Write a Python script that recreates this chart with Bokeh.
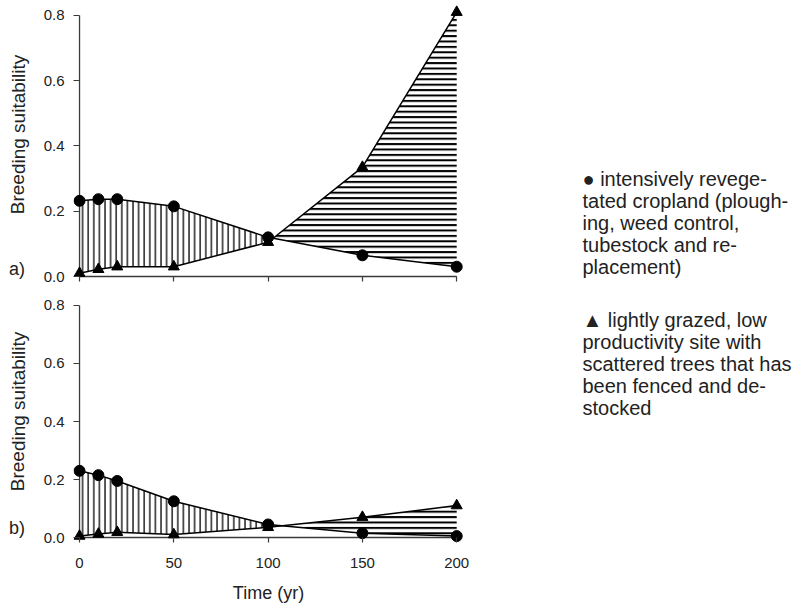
from bokeh.plotting import figure
from bokeh.models import Range1d, FixedTicker, PrintfTickFormatter, ColumnDataSource
from bokeh.core.properties import value
from bokeh.layouts import column, row
from bokeh.embed import file_html
from bokeh.resources import INLINE

# ---------------- data ----------------
time = [0, 10, 20, 50, 100, 150, 200]
a_circle = [0.232, 0.237, 0.237, 0.215, 0.12, 0.065, 0.03]
a_triangle = [0.01, 0.022, 0.03, 0.03, 0.105, 0.335, 0.81]
b_circle = [0.23, 0.215, 0.195, 0.125, 0.045, 0.015, 0.005]
b_triangle = [0.005, 0.012, 0.018, 0.01, 0.035, 0.07, 0.11]

x_ticks = [0, 50, 100, 150, 200]
y_ticks = [0.0, 0.2, 0.4, 0.6, 0.8]
y_label = "Breeding suitability"
x_label = "Time (yr)"
panel_tags = ["a)", "b)"]
legend_circle = ["\u25CF intensively revege-", "tated cropland (plough-",
                 "ing, weed control,", "tubestock and re-", "placement)"]
legend_triangle = ["\u25B2 lightly grazed, low", "productivity site with",
                   "scattered trees that has", "been fenced and de-", "stocked"]

FONT = "Liberation Sans"
INK = "#222222"
AXIS = "#3a3a3a"
H = 607          # total height of the page content
STRIP_W = 34     # left strip holding the axis titles and panel tags
MAIN_W = 39 + 390 + 8
LEG_W = 808 - STRIP_W - MAIN_W


def make_panel(circ, tri, y_range, frame_h, top_b, bottom_b, show_xlabels):
    p = figure(frame_width=390, frame_height=frame_h,
               x_range=Range1d(-3.2, 203.6), y_range=y_range,
               output_backend="svg", toolbar_location=None, title=None,
               min_border_left=39, min_border_right=8,
               min_border_top=top_b, min_border_bottom=bottom_b,
               outline_line_color=None, background_fill_color="white",
               border_fill_color="white")
    p.grid.visible = False

    # x axis (ticks reach from the frame edge up to y = 0)
    xa = p.xaxis[0]
    xa.ticker = FixedTicker(ticks=x_ticks)
    xa.axis_line_color = None
    xa.minor_tick_line_color = None
    xa.major_tick_in = 5
    xa.major_tick_out = 0
    xa.major_tick_line_color = AXIS
    xa.major_tick_line_width = 1.2
    xa.major_label_text_font = FONT
    xa.major_label_text_color = INK
    if show_xlabels:
        xa.major_label_text_font_size = "15px"
        xa.major_label_standoff = 15
        xa.axis_label = x_label
        xa.axis_label_text_font = FONT
        xa.axis_label_text_font_size = "18px"
        xa.axis_label_text_font_style = "normal"
        xa.axis_label_text_color = INK
        xa.axis_label_standoff = 12
    else:
        xa.major_label_overrides = {t: "" for t in x_ticks}
        xa.major_label_text_font_size = "1px"
        xa.major_label_standoff = 0

    # y axis (ticks reach from the frame edge to x = 0)
    ya = p.yaxis[0]
    ya.ticker = FixedTicker(ticks=y_ticks)
    ya.formatter = PrintfTickFormatter(format="%.1f")
    ya.axis_line_color = None
    ya.minor_tick_line_color = None
    ya.major_tick_in = 6
    ya.major_tick_out = 0
    ya.major_tick_line_color = AXIS
    ya.major_tick_line_width = 1.2
    ya.major_label_text_font = FONT
    ya.major_label_text_font_size = "15px"
    ya.major_label_text_color = INK
    ya.major_label_standoff = 9

    # hatched areas between the two curves
    k = time.index(100)
    p.varea(x=time[:k + 1], y1=tri[:k + 1], y2=circ[:k + 1],
            fill_color=None, hatch_pattern="vertical_line",
            hatch_color="black", hatch_weight=1.3, hatch_scale=5.6)
    p.varea(x=time[k:], y1=circ[k:], y2=tri[k:],
            fill_color=None, hatch_pattern="horizontal_line",
            hatch_color="black", hatch_weight=2.0, hatch_scale=5.4)

    # axis lines at x = 0 and y = 0
    p.line([x_ticks[0], x_ticks[-1]], [y_ticks[0], y_ticks[0]],
           line_color=AXIS, line_width=1.3)
    p.line([x_ticks[0], x_ticks[0]], [y_ticks[0], y_ticks[-1]],
           line_color=AXIS, line_width=1.3)

    # curves and markers
    p.line(time, circ, line_color="black", line_width=1.5)
    p.line(time, tri, line_color="black", line_width=1.5)
    p.scatter(time, circ, marker="circle", size=11, color="black")
    p.scatter(time, tri, marker="triangle", size=11, color="black")
    return p


# top panel: y=0 at y-pixel 276, y=0.8 at 15
p1 = make_panel(a_circle, a_triangle, Range1d(-0.0153, 0.8398),
                frame_h=279, top_b=2, bottom_b=11, show_xlabels=False)
# bottom panel: y=0 at y-pixel 537, y=0.8 at 305
p2 = make_panel(b_circle, b_triangle, Range1d(-0.0172, 0.8310),
                frame_h=246, top_b=4, bottom_b=H - 292 - 250, show_xlabels=True)


def text_fig(width):
    f = figure(width=width, height=H, x_range=Range1d(0, width),
               y_range=Range1d(0, H), output_backend="svg",
               toolbar_location=None, title=None, min_border=0,
               x_axis_location=None, y_axis_location=None,
               outline_line_color=None, border_fill_color="white",
               background_fill_color="white")
    f.grid.visible = False
    return f


def put(f, xs, ys, texts, size, align="left", angle=0.0):
    src = ColumnDataSource(dict(x=xs, y=[H - v for v in ys], text=texts))
    f.text(x="x", y="y", text="text", source=src, angle=angle,
           text_font=value(FONT), text_font_size=size, text_color=INK,
           text_align=align, text_baseline="middle")


# left strip: rotated axis titles and panel tags
strip = text_fig(STRIP_W)
put(strip, [17.5, 17.5], [134, 411], [y_label, y_label], "19px",
    align="center", angle=1.5707963)
put(strip, [16.5, 16.5], [268, 527], panel_tags, "18px", align="center")

# right side: legend text
leg = text_fig(LEG_W)
lx = 582 - STRIP_W - MAIN_W
put(leg, [lx] * 5, [178 + 22 * i for i in range(5)], legend_circle, "20px")
put(leg, [lx] * 5, [319 + 22 * i for i in range(5)], legend_triangle, "20px")

layout = row(strip, column(p1, p2), leg)
open("out.html", "w").write(file_html(layout, INLINE))
